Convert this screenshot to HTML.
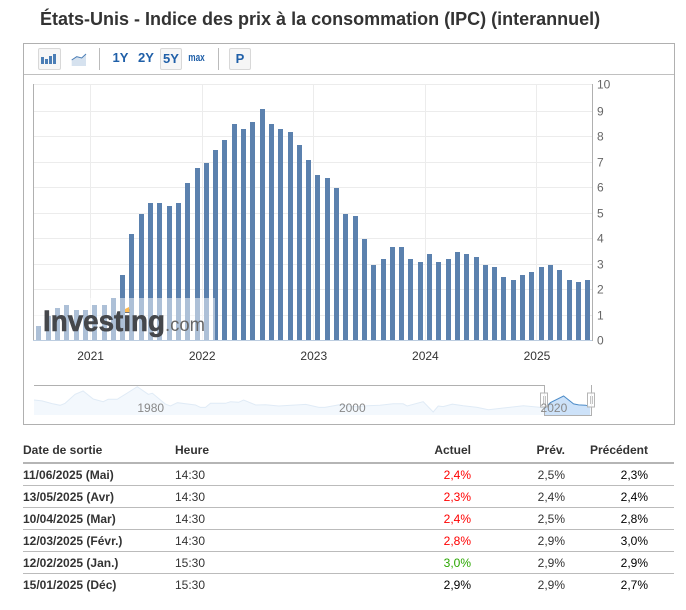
<!DOCTYPE html>
<html lang="fr">
<head>
<meta charset="utf-8">
<title>États-Unis - Indice des prix à la consommation (IPC)</title>
<style>
html,body{margin:0;padding:0;background:#fff;}
body{width:686px;height:610px;position:relative;overflow:hidden;font-family:"Liberation Sans",Arial,sans-serif;}
#title{position:absolute;left:40px;top:8px;margin:0;font-size:18px;line-height:22px;font-weight:bold;color:#333;white-space:nowrap;}
#box{position:absolute;left:23px;top:43px;width:650px;height:380px;border:1px solid #b0b0b0;}
#toolbar-line{position:absolute;left:24px;top:74px;width:650px;height:1px;background:#c0c0c0;}
.btn{position:absolute;box-sizing:border-box;top:48px;height:22px;text-align:center;line-height:20px;color:#1f5fa8;font-size:13px;font-weight:bold;}
.btn.on{background:#f6f6f6;border:1px solid #d8d8d8;border-radius:2px;}
.sep{position:absolute;top:48px;width:1px;height:22px;background:#bbb;}
#chart{position:absolute;left:0;top:0;}
#data-table{position:absolute;left:23px;top:438px;width:651px;border-collapse:collapse;table-layout:fixed;font-size:12px;color:#333;}
#data-table th{font-weight:bold;height:24px;padding:0;border-bottom:2px solid #b5b5b5;vertical-align:middle;text-align:left;}
#data-table td{height:21px;padding:0;border-bottom:1px solid #bbb;vertical-align:middle;}
#data-table tr:last-child td{border-bottom:none;}
#data-table th.r,#data-table td.r{text-align:right;}
.d{font-weight:bold;}
.red{color:#f00;}
.green{color:#2aa700;}
.blk{color:#000;}
</style>
</head>
<body>
<h1 id="title">États-Unis - Indice des prix à la consommation (IPC) (interannuel)</h1>
<div id="box"></div>
<div id="toolbar-line"></div>

<div class="btn on" style="left:38px;width:23px">
  <svg width="21" height="20" style="display:block"><rect x="2" y="8" width="3" height="7" fill="#4a7db5"/><rect x="6" y="10" width="3" height="5" fill="#4a7db5"/><rect x="10" y="7" width="3" height="8" fill="#4a7db5"/><rect x="14" y="5" width="3" height="10" fill="#4a7db5"/></svg>
</div>
<div class="btn" style="left:70px;width:18px">
  <svg width="18" height="22" style="display:block"><path d="M1.700 12 L6.700 8.700 L11.700 10 L16 6 L16 18 L1.700 18Z" fill="#d6e2ef"/><path d="M1.700 12 L6.700 8.700 L11.700 10 L16 6" fill="none" stroke="#4a7db5" stroke-width="1"/></svg>
</div>
<div class="sep" style="left:99px"></div>
<div class="btn" style="left:109px;width:23px">1Y</div>
<div class="btn" style="left:135px;width:22px">2Y</div>
<div class="btn on" style="left:160px;width:22px">5Y</div>
<div class="btn" style="left:185px;width:23px;font-size:11px;transform:scaleX(.75)">max</div>
<div class="sep" style="left:218px"></div>
<div class="btn on" style="left:229px;width:22px">P</div>

<svg id="chart" width="686" height="430" xmlns="http://www.w3.org/2000/svg"></svg>

<table id="data-table">
<colgroup><col style="width:152px"><col style="width:200px"><col style="width:96px"><col style="width:94px"><col style="width:83px"><col style="width:26px"></colgroup>
<thead>
<tr><th>Date de sortie</th><th>Heure</th><th class="r">Actuel</th><th class="r">Prév.</th><th class="r">Précédent</th><th></th></tr>
</thead>
<tbody>
<tr><td class="d">11/06/2025 (Mai)</td><td>14:30</td><td class="r red">2,4%</td><td class="r">2,5%</td><td class="r blk">2,3%</td><td></td></tr>
<tr><td class="d">13/05/2025 (Avr)</td><td>14:30</td><td class="r red">2,3%</td><td class="r">2,4%</td><td class="r blk">2,4%</td><td></td></tr>
<tr><td class="d">10/04/2025 (Mar)</td><td>14:30</td><td class="r red">2,4%</td><td class="r">2,5%</td><td class="r blk">2,8%</td><td></td></tr>
<tr><td class="d">12/03/2025 (Févr.)</td><td>14:30</td><td class="r red">2,8%</td><td class="r">2,9%</td><td class="r blk">3,0%</td><td></td></tr>
<tr><td class="d">12/02/2025 (Jan.)</td><td>15:30</td><td class="r green">3,0%</td><td class="r">2,9%</td><td class="r blk">2,9%</td><td></td></tr>
<tr><td class="d">15/01/2025 (Déc)</td><td>15:30</td><td class="r blk">2,9%</td><td class="r">2,9%</td><td class="r blk">2,7%</td><td></td></tr>
</tbody>
</table>

<script>
const cpiValues = [0.6,1.0,1.3,1.4,1.2,1.2,1.4,1.4,1.7,2.6,4.2,5.0,5.4,5.4,5.3,5.4,6.2,6.8,7.0,7.5,7.9,8.5,8.3,8.6,9.1,8.5,8.3,8.2,7.7,7.1,6.5,6.4,6.0,5.0,4.9,4.0,3.0,3.2,3.7,3.7,3.2,3.1,3.4,3.1,3.2,3.5,3.4,3.3,3.0,2.9,2.5,2.4,2.6,2.7,2.9,3.0,2.8,2.4,2.3,2.4];
const yearLabels = ['2021','2022','2023','2024','2025'];
const yearStartIndex = [5.6,17.6,29.6,41.6,53.6];
const yTickValues = [0,1,2,3,4,5,6,7,8,9,10];
const navYears = [1970,1970.8,1971.8,1972.6,1973.1,1974.1,1974.9,1975.9,1976.9,1977.4,1978.3,1980.3,1981.4,1981.8,1983.1,1983.6,1984.3,1986.1,1986.6,1987.1,1987.6,1989.1,1989.6,1990.4,1990.9,1992.1,1993.1,1994.4,1997.1,1998.4,1999,2000.5,2002,2003.2,2004.5,2005.8,2006.8,2007.2,2008.8,2009.8,2010.3,2010.8,2011.7,2012.8,2014.2,2015.3,2016.8,2018.8,2020.5,2020.9,2021.5,2022.8,2023.8,2024.3,2025,2025.45];
const navValues = [6.6,6.0,4.3,3.2,4.5,10.2,12.3,7.2,5.5,7.0,7.0,15.0,10.2,10.8,4.0,2.8,4.9,3.4,1.9,1.9,4.5,4.5,5.5,5.1,6.6,3.4,3.6,2.8,3.8,1.9,1.9,3.7,2.3,3.0,3.3,4.2,4.2,2.8,5.5,-1.0,2.8,2.4,4.0,3.0,1.9,0.4,1.5,3.0,1.9,1.3,5.0,9.1,4.1,3.5,3.3,2.4];
const navTickYears = ['1980','2000','2020'];

const svg = document.getElementById('chart');
const NS = 'http://www.w3.org/2000/svg';
function mk(tag, attrs, parent) {
  const e = document.createElementNS(NS, tag);
  for (const k in attrs) e.setAttribute(k, attrs[k]);
  (parent || svg).appendChild(e);
  return e;
}
/* axis functions */
function barLeft(i) { return Math.ceil(36 + i * 9.3 - 1e-6); }
function indexX(i) { return 38.5 + i * 9.3; }
function valueY(v) { return 340 - v * 25.5; }
function gridY(t) { return t === 10 ? 84 : Math.round(valueY(t)); }
function barTop(v) { return Math.round(valueY(v) + 1); }
function navX(year) { return 34 + (year - 1970) * 10.03; }
function navY(v) { return 410.4 - v * 1.58; }
function navLabelX(year) { return 150.7 + (year - 1980) * 10.08; }

/* horizontal grid */
yTickValues.forEach(function (t) {
  const y = gridY(t);
  if (t > 0) {
    const g = mk('rect', {x: 33, y: y, width: 559, height: 1, fill: '#ececec'});
    
    
  }
  const l = mk('text', {x: 597, y: y + 4.5, 'font-size': 12, fill: '#666', 'font-family': '"Liberation Sans",Arial,sans-serif'});
  l.textContent = String(t);
  
  
});

/* vertical grid and year labels */
yearLabels.forEach(function (label, k) {
  const x = indexX(yearStartIndex[k]);
  const g = mk('rect', {x: Math.floor(x), y: 84, width: 1, height: 256, fill: '#ececec'});
  
  
  const t = mk('text', {x: x, y: 360, 'font-size': 12, fill: '#333', 'text-anchor': 'middle', 'font-family': '"Liberation Sans",Arial,sans-serif'});
  t.textContent = label;
  
  
});

/* axes */
const leftAxis = mk('rect', {x: 33, y: 84, width: 1, height: 257, fill: '#b0b0b0'});


const rightAxis = mk('rect', {x: 592, y: 84, width: 1, height: 257, fill: '#b0b0b0'});



/* bars */
cpiValues.forEach(function (v, i) {
  const top = barTop(v);
  const b = mk('rect', {x: barLeft(i), y: top, width: 5, height: 340 - top, fill: '#5b81ae'});
  
  
});

const baseline = mk('rect', {x: 33, y: 340, width: 559, height: 1, fill: '#bccde0'});



/* watermark */
const wmBg = mk('rect', {x: 34, y: 298, width: 181, height: 42, fill: '#fff', 'fill-opacity': 0.5});


const wm = mk('text', {x: 43, y: 331, 'font-size': 30, 'font-weight': 'bold', fill: '#45474b', stroke: '#45474b', 'stroke-width': 0.6, 'font-family': '"Liberation Sans",Arial,sans-serif', 'textLength': 122, 'lengthAdjust': 'spacingAndGlyphs'});
wm.textContent = 'Investing';


const wm2 = mk('text', {x: 165, y: 331, 'font-size': 19, fill: '#666', 'font-family': '"Liberation Sans",Arial,sans-serif', 'textLength': 40, 'lengthAdjust': 'spacingAndGlyphs'});
wm2.textContent = '.com';


const wmDot = mk('path', {d: 'M125 309 L129 307 L129.500 312 L125 312Z', fill: '#fbb951'});



/* navigator */
const linePts = navYears.map(function (yr, i) { return navX(yr).toFixed(1) + ' ' + navY(navValues[i]).toFixed(1); });
const lineD = 'M' + linePts.join(' L');
const areaD = lineD + ' L' + navX(navYears[navYears.length - 1]).toFixed(1) + ' 415 L' + navX(navYears[0]).toFixed(1) + ' 415Z';
const defs = mk('defs', {});
const clipA = mk('clipPath', {id: 'nav-out'}, defs);
mk('rect', {x: 0, y: 380, width: 544, height: 40}, clipA);
const clipB = mk('clipPath', {id: 'nav-in'}, defs);
mk('rect', {x: 544, y: 380, width: 60, height: 40}, clipB);

const navArea = mk('path', {d: areaD, fill: '#f3f8fd', 'clip-path': 'url(#nav-out)'});


const navLine = mk('path', {d: lineD, fill: 'none', stroke: '#e0ebf6', 'stroke-width': 1, 'clip-path': 'url(#nav-out)'});


const selArea = mk('path', {d: areaD, fill: '#cde2f9', 'clip-path': 'url(#nav-in)'});


const selLine = mk('path', {d: lineD, fill: 'none', stroke: '#4d8cc8', 'stroke-width': 1, 'clip-path': 'url(#nav-in)'});



const navOutline = mk('path', {d: 'M34 385.500 H544.500 V415.500 H591.500 V385', fill: 'none', stroke: '#b0b0b0', 'stroke-width': 1});



[540.5, 587.5].forEach(function (hx) {
  const h = mk('rect', {x: hx, y: 393, width: 7, height: 14, fill: '#fff', 'fill-opacity': 0.85, stroke: '#b5b5b5'});
  
  
  const g1 = mk('rect', {x: hx + 2.5, y: 396, width: 1, height: 8, fill: '#c4c4c4'});
  
  
  const g2 = mk('rect', {x: hx + 4.5, y: 396, width: 1, height: 8, fill: '#c4c4c4'});
  
  
});

navTickYears.forEach(function (yr) {
  const t = mk('text', {x: navLabelX(Number(yr)), y: 412, 'font-size': 12, fill: '#888', 'text-anchor': 'middle', 'font-family': '"Liberation Sans",Arial,sans-serif'});
  t.textContent = yr;
  
  
});
</script>
</body>
</html>
